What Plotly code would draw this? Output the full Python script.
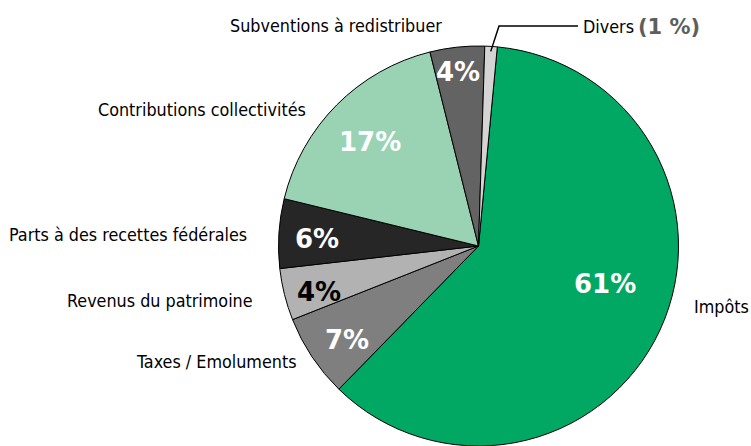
import math
import plotly.graph_objects as go

# ---------------- data ----------------
categories = ["Impôts", "Taxes / Emoluments", "Revenus du patrimoine",
              "Parts à des recettes fédérales", "Contributions collectivités",
              "Subventions à redistribuer", "Divers"]
values = [60.8, 6.7, 4.2, 5.6, 17.3, 4.4, 1.0]

# ---------------- style ----------------
colors = ["#00A863", "#7F7F7F", "#B2B2B2", "#262626", "#99D3B4", "#636363", "#D4D4D4"]
pct_colors = ["white", "white", "black", "white", "white", "white", None]
pct_radius = [0.66, 0.81, 0.83, 0.81, 0.75, 0.875, None]
pct_angle_shift = [-8, -2, -2, -1, -1, -0.5, 0]

W, H = 751, 446
CX, CY, R = 478.5, 246.0, 200.0
ROTATION = 5.4  # start angle of first slice (deg clockwise from 12 o'clock)

LABEL_FONT = "DejaVu Sans Condensed, Liberation Sans Narrow, sans-serif"
LABEL_SIZE = 17.8
PCT_FONT = "DejaVu Sans, Verdana, sans-serif"

# outside label placement (pixel x, pixel y, anchor)
label_pos = {
    "Impôts": (751, 306, "right"),
    "Taxes / Emoluments": (299, 361, "right"),
    "Revenus du patrimoine": (255, 300, "right"),
    "Parts à des recettes fédérales": (249, 235, "right"),
    "Contributions collectivités": (308, 109, "right"),
    "Subventions à redistribuer": (444, 26, "right"),
    "Divers": (581, 27, "left"),
}


def paper(x, y):
    return x / W, 1 - y / H


fig = go.Figure()
fig.add_trace(go.Pie(
    labels=categories,
    values=values,
    sort=False,
    direction="clockwise",
    rotation=ROTATION,
    marker=dict(colors=colors, line=dict(color="black", width=1)),
    textinfo="none",
    hoverinfo="skip",
    domain=dict(x=[(CX - R) / W, (CX + R) / W], y=[1 - (CY + R) / H, 1 - (CY - R) / H]),
    showlegend=False,
))

total = sum(values)
annotations = []
shapes = []
cum = 0.0
for i, (cat, v) in enumerate(zip(categories, values)):
    mid = ROTATION + (cum + v / 2) / total * 360
    cum += v
    pct = round(v / total * 100)
    if pct_radius[i] is not None:
        a = math.radians(mid + pct_angle_shift[i])
        rr = pct_radius[i] * R
        px = CX + rr * math.sin(a)
        py = CY - rr * math.cos(a)
        x, y = paper(px, py)
        annotations.append(dict(
            x=x, y=y, xref="paper", yref="paper", showarrow=False,
            text=f"<b>{pct}%</b>", xanchor="center", yanchor="middle",
            font=dict(family=PCT_FONT, size=26, color=pct_colors[i]),
        ))
    lx, ly, anchor = label_pos[cat]
    x, y = paper(lx, ly)
    annotations.append(dict(
        x=x, y=y, xref="paper", yref="paper", showarrow=False,
        text=cat, xanchor=anchor, yanchor="middle",
        font=dict(family=LABEL_FONT, size=LABEL_SIZE, color="black"),
    ))
    if cat == "Divers":
        # bold percentage after the label
        x2, _ = paper(lx + 55, ly)
        annotations.append(dict(
            x=x2, y=y, xref="paper", yref="paper", showarrow=False,
            text=f"<b>({pct} %)</b>", xanchor="left", yanchor="middle",
            font=dict(family=PCT_FONT, size=21, color="#5E5E5E"),
        ))
        # leader line
        a = math.radians(mid)
        sx = CX + 0.975 * R * math.sin(a)
        sy = CY - 0.975 * R * math.cos(a)
        p0 = paper(sx, sy)
        p1 = paper(499, 26)
        p2 = paper(lx - 3, 26)
        shapes.append(dict(
            type="path", xref="paper", yref="paper",
            path=f"M {p0[0]} {p0[1]} L {p1[0]} {p1[1]} L {p2[0]} {p2[1]}",
            line=dict(color="black", width=1.5),
        ))

fig.update_layout(
    width=W, height=H,
    margin=dict(l=0, r=0, t=0, b=0),
    paper_bgcolor="white", plot_bgcolor="white",
    annotations=annotations,
    shapes=shapes,
    showlegend=False,
)

fig.write_html(
    "out.html",
    config={"displayModeBar": False},
    post_script="document.body.style.margin='0px';document.body.style.overflow='hidden';",
)
